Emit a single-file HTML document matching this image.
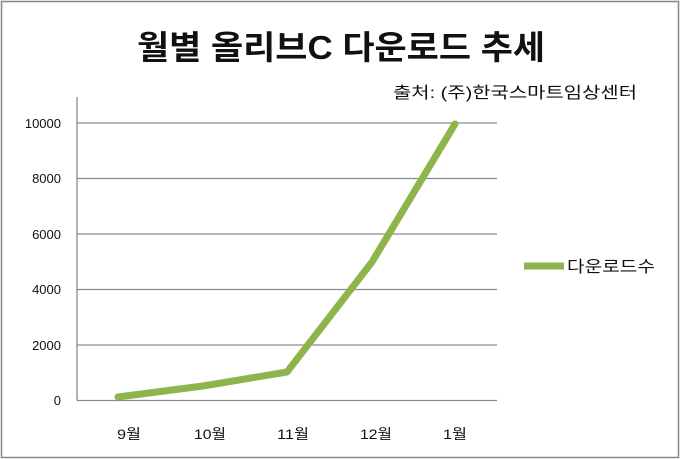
<!DOCTYPE html>
<html><head><meta charset="utf-8"><style>
html,body{margin:0;padding:0;background:#fff;}
svg{display:block;}
text{font-family:"Liberation Sans","Noto Sans CJK KR","NanumGothic",sans-serif;}
</style></head><body>
<svg width="680" height="459" viewBox="0 0 680 459">
<rect x="1.5" y="1.5" width="677" height="456" fill="#fff" stroke="#888" stroke-width="1.5"/>
<text x="137" y="59" font-size="33" font-weight="bold" fill="#111" textLength="408" lengthAdjust="spacingAndGlyphs">월별 올리브C 다운로드 추세</text>
<text x="393" y="98" font-size="16" fill="#111" textLength="244" lengthAdjust="spacingAndGlyphs">출처: (주)한국스마트임상센터</text>
<g stroke="#8a8a8a" stroke-width="1.3">
<line x1="77" y1="123" x2="497" y2="123"/>
<line x1="77" y1="178.5" x2="497" y2="178.5"/>
<line x1="77" y1="234" x2="497" y2="234"/>
<line x1="77" y1="289.5" x2="497" y2="289.5"/>
<line x1="77" y1="345" x2="497" y2="345"/>
<line x1="77" y1="400.5" x2="497" y2="400.5"/>
<line x1="77" y1="97" x2="77" y2="400.5"/>
</g>
<g font-size="13" fill="#111" text-anchor="end">
<text x="61" y="128">10000</text>
<text x="61" y="183">8000</text>
<text x="61" y="239">6000</text>
<text x="61" y="294">4000</text>
<text x="61" y="350">2000</text>
<text x="61" y="405">0</text>
</g>
<g font-size="14" fill="#111">
<text x="117" y="439" textLength="24" lengthAdjust="spacingAndGlyphs">9월</text>
<text x="194" y="439" textLength="32" lengthAdjust="spacingAndGlyphs">10월</text>
<text x="277" y="439" textLength="32" lengthAdjust="spacingAndGlyphs">11월</text>
<text x="360" y="439" textLength="32" lengthAdjust="spacingAndGlyphs">12월</text>
<text x="443" y="439" textLength="24" lengthAdjust="spacingAndGlyphs">1월</text>
</g>
<polyline points="118,397 203,386 287,372 372,262 455,124" fill="none" stroke="#8db54b" stroke-width="7" stroke-linejoin="round" stroke-linecap="round"/>
<line x1="524" y1="266" x2="564" y2="266" stroke="#8db54b" stroke-width="7"/>
<text x="567" y="272" font-size="16" fill="#111" textLength="88" lengthAdjust="spacingAndGlyphs">다운로드수</text>
</svg>
</body></html>
